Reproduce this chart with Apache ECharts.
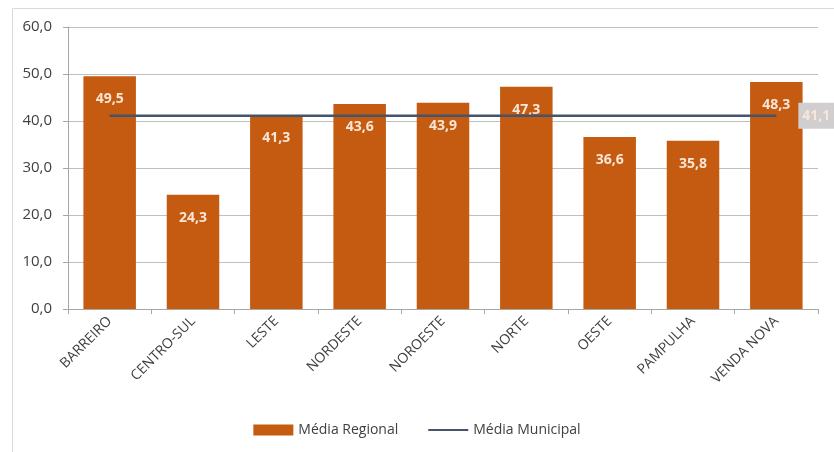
<!DOCTYPE html>
<html><head><meta charset="utf-8">
<script src="https://cdn.jsdelivr.net/npm/echarts@6/dist/echarts.min.js"></script>
<style>html,body{margin:0;padding:0;background:#fff}#c{width:834px;height:452px}</style>
</head><body><div id="c"></div>
<script>
const categories = ['BARREIRO','CENTRO-SUL','LESTE','NORDESTE','NOROESTE','NORTE','OESTE','PAMPULHA','VENDA NOVA'];
const mediaRegional = [49.5,24.3,41.3,43.6,43.9,47.3,36.6,35.8,48.3];
const mediaMunicipal = [41.1,41.1,41.1,41.1,41.1,41.1,41.1,41.1,41.1];
const yTicks = [0,10,20,30,40,50,60];
const fmt = v => Number(v).toFixed(1).replace('.', ',');
const chart = echarts.init(document.getElementById('c'));
chart.setOption({
  animation:false,
  textStyle:{fontFamily:'Open Sans'},
  graphic:[{type:'rect',shape:{x:12.5,y:8.5,width:830,height:450},style:{fill:'none',stroke:'#d9d9d9',lineWidth:1}}],
  legend:{bottom:10,left:'center',itemGap:30,itemWidth:40,itemHeight:11,
    textStyle:{fontSize:14,color:'#404040',fontFamily:'Open Sans'},
    data:[{name:'Média Regional',icon:'rect'},
          {name:'Média Municipal',icon:'path://M0,0H40V2H0Z',itemStyle:{color:'#44546a'}}]},
  grid:{left:68,right:16,top:27,bottom:143,containLabel:false},
  xAxis:{type:'category',data:categories,
    axisLine:{lineStyle:{color:'#a6a6a6'}},
    axisTick:{show:true,lineStyle:{color:'#a6a6a6'},length:5},
    axisLabel:{rotate:45,fontSize:14,color:'#404040',margin:10,interval:0}},
  yAxis:{type:'value',min:0,max:60,interval:10,
    axisLine:{show:true,lineStyle:{color:'#a6a6a6'}},
    axisTick:{show:true,length:5,lineStyle:{color:'#a6a6a6'}},
    splitLine:{lineStyle:{color:'#bfbfbf'}},
    axisLabel:{formatter:v=>yTicks.includes(v)?fmt(v):'',fontSize:15,color:'#404040',margin:16}},
  series:[
    {name:'Média Regional',type:'bar',data:mediaRegional,barCategoryGap:'37%',
     itemStyle:{color:'#c55a11'},
     label:{show:true,position:'insideTop',distance:16,formatter:p=>fmt(p.value),
       color:'#fbe5d6',fontWeight:'bold',fontSize:14}},
    {name:'Média Municipal',type:'line',data:mediaMunicipal,symbol:'none',
     lineStyle:{color:'#44546a',width:2.5},itemStyle:{color:'#44546a'},
     endLabel:{show:true,distance:22,formatter:p=>fmt(p.value),
       color:'#fbe5d6',backgroundColor:'#d0cece',padding:[6,4],fontWeight:'bold',fontSize:14}}
  ]
});
</script></body></html>
